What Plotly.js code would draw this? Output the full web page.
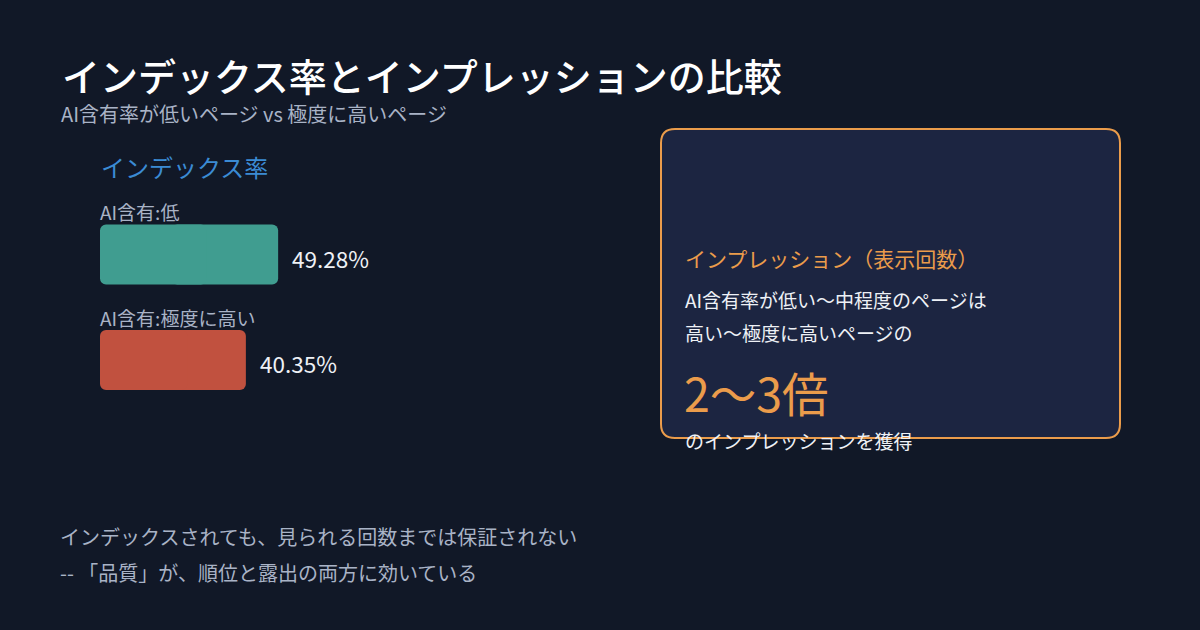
<!DOCTYPE html>
<html>
<head>
<meta charset="utf-8">
<script src="https://cdn.plot.ly/plotly-3.0.1.min.js"></script>
<style>
html,body{margin:0;padding:0;background:#111827;}
#chart{width:1200px;height:630px;}
</style>
</head>
<body>
<div id="chart"></div>
<script>
// ---- data ----
const categories = ["AI含有:低", "AI含有:極度に高い"];
const indexRates = [49.28, 40.35];
const barColors = ["#409d90", "#c1513f"];
const valueLabels = ["49.28%", "40.35%"];

const titleText = "インデックス率とインプレッションの比較";
const subtitleText = "AI含有率が低いページ vs 極度に高いページ";
const sectionTitle = "インデックス率";
const boxHeading = "インプレッション（表示回数）";
const boxLine1 = "AI含有率が低い〜中程度のページは";
const boxLine2 = "高い〜極度に高いページの";
const boxBig = "2〜3倍";
const boxLine3 = "のインプレッションを獲得";
const footer1 = "インデックスされても、見られる回数までは保証されない";
const footer2 = "-- 「品質」が、順位と露出の両方に効いている";

// ---- helpers (layout only) ----
const W = 1200, H = 630;
const px = x => x / W;
const py = y => 1 - y / H;

function roundRectPath(x0, y0, x1, y1, r) {
  const P = (x, y) => px(x) + "," + py(y);
  return "M" + P(x0 + r, y0) +
    " L" + P(x1 - r, y0) +
    " Q" + P(x1, y0) + " " + P(x1, y0 + r) +
    " L" + P(x1, y1 - r) +
    " Q" + P(x1, y1) + " " + P(x1 - r, y1) +
    " L" + P(x0 + r, y1) +
    " Q" + P(x0, y1) + " " + P(x0, y1 - r) +
    " L" + P(x0, y0 + r) +
    " Q" + P(x0, y0) + " " + P(x0 + r, y0) + " Z";
}

const FONT = '"Noto Sans CJK JP", "Noto Sans", sans-serif';
const GREY = "#a9b3c6";
const ORANGE = "#eb9c4b";
const WHITE = "#eef1f6";

function txt(x, y, text, size, color, extra) {
  return Object.assign({
    xref: "paper", yref: "paper", x: px(x), y: py(y),
    xanchor: "left", yanchor: "middle", showarrow: false,
    text: text, font: {family: FONT, size: size, color: color}
  }, extra || {});
}

// Each bar is drawn as two overlapping halves so that both ends get rounded corners
const rightHalf = {
  type: "bar",
  orientation: "h",
  y: categories,
  base: indexRates.map(v => v * 0.4),
  x: indexRates.map(v => v * 0.6),
  marker: {color: barColors, line: {width: 0}},
  hoverinfo: "skip",
  showlegend: false
};
const leftHalf = {
  type: "bar",
  orientation: "h",
  y: categories,
  base: indexRates.map(v => v * 0.6),
  x: indexRates.map(v => -v * 0.6),
  marker: {color: barColors, line: {width: 0}},
  hoverinfo: "skip",
  showlegend: false
};

const annotations = [
  txt(60, 74, titleText, 38, "#ffffff", {font: {family: FONT, size: 38, color: "#ffffff", weight: 500}}),
  txt(59, 113, subtitleText, 20, GREY),
  txt(99, 167, sectionTitle, 24, "#3b8bd4"),
  txt(683, 258, boxHeading, 21, ORANGE),
  txt(683, 299, boxLine1, 19, WHITE),
  txt(683, 332, boxLine2, 19, WHITE),
  txt(682, 391, boxBig, 46.5, ORANGE),
  txt(683, 440, boxLine3, 19, WHITE),
  txt(58, 536, footer1, 20, GREY),
  txt(58, 572, footer2, 20, GREY)
];

categories.forEach((c, i) => {
  annotations.push({
    xref: "x", yref: "y", x: 0, y: c, xanchor: "left", yanchor: "middle",
    xshift: -2, yshift: 43, showarrow: false, text: c,
    font: {family: FONT, size: 19, color: GREY}
  });
  annotations.push({
    xref: "x", yref: "y", x: indexRates[i], y: c, xanchor: "left", yanchor: "middle",
    xshift: 12, yshift: -3, showarrow: false, text: valueLabels[i],
    font: {family: FONT, size: 22.5, color: WHITE}
  });
});

const layout = {
  width: W, height: H,
  margin: {l: 0, r: 0, t: 0, b: 0, pad: 0},
  paper_bgcolor: "#111827",
  plot_bgcolor: "rgba(0,0,0,0)",
  font: {family: FONT, color: WHITE},
  barmode: "overlay",
  bargap: 0.43,
  barcornerradius: 6,
  xaxis: {
    domain: [px(100), px(461.5)],
    range: [0, 100],
    showgrid: false, zeroline: false, showticklabels: false, showline: false,
    fixedrange: true
  },
  yaxis: {
    domain: [py(412.75), py(201.75)],
    type: "category",
    categoryorder: "array",
    categoryarray: categories,
    range: [1.5, -0.5],
    showgrid: false, zeroline: false, showticklabels: false, showline: false,
    fixedrange: true
  },
  shapes: [{
    type: "path",
    xref: "paper", yref: "paper",
    path: roundRectPath(661, 129, 1120, 438, 14),
    fillcolor: "#1c2541",
    line: {color: "#eb9c4b", width: 2},
    layer: "below"
  }],
  annotations: annotations
};

Plotly.newPlot("chart", [rightHalf, leftHalf], layout, {staticPlot: true, displayModeBar: false});
</script>
</body>
</html>
